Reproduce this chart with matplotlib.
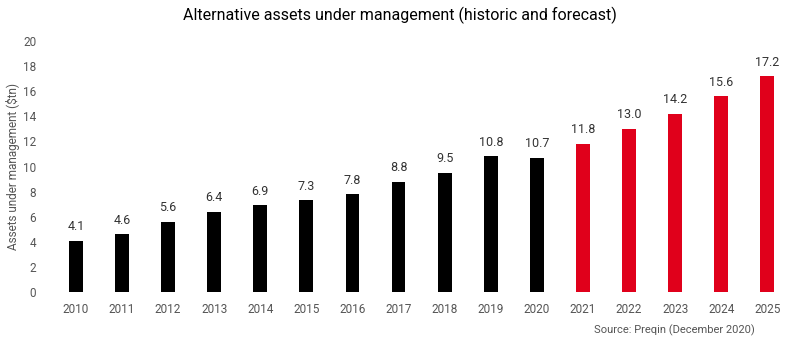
import matplotlib.pyplot as plt

years = ['2010', '2011', '2012', '2013', '2014', '2015', '2016', '2017',
         '2018', '2019', '2020', '2021', '2022', '2023', '2024', '2025']
aum = [4.1, 4.6, 5.6, 6.4, 6.9, 7.3, 7.8, 8.8, 9.5, 10.8, 10.7,
       11.8, 13.0, 14.2, 15.6, 17.2]
forecast_from = '2021'

plt.rcParams['font.family'] = ['Roboto', 'DejaVu Sans']
grey = '#555555'

fig = plt.figure(figsize=(8, 3.48), dpi=100)
ax = fig.add_axes([0.066, 0.161, 0.922, 0.721])

first_fc = years.index(forecast_from)
colors = ['black' if i < first_fc else '#E0001B' for i in range(len(years))]
x = range(len(years))
bars = ax.bar(x, aum, width=0.3, color=colors)

for xi, v in zip(x, aum):
    ax.text(xi, v + 0.6, f'{v:.1f}', ha='center', va='bottom',
            fontsize=9, color='#333333')

ax.set_xticks(list(x))
ax.set_xticklabels(years)
ax.set_xlim(-0.5, len(years) - 0.5)
ax.set_ylim(0, 20)
ax.set_yticks(range(0, 21, 2))
ax.tick_params(length=0, labelsize=8.5, colors=grey, pad=8)
ax.tick_params(axis='y', pad=12)
for s in ax.spines.values():
    s.set_visible(False)

ax.set_ylabel('Assets under management ($tn)', fontsize=8.5, color=grey,
              labelpad=2)
fig.text(0.5, 0.955, 'Alternative assets under management (historic and forecast)',
         ha='center', va='center', fontsize=11.5, color='black')
fig.text(0.944, 0.05, 'Source: Preqin (December 2020)', ha='right', va='center',
         fontsize=8, color=grey)

fig.savefig('out.png', dpi=100)
